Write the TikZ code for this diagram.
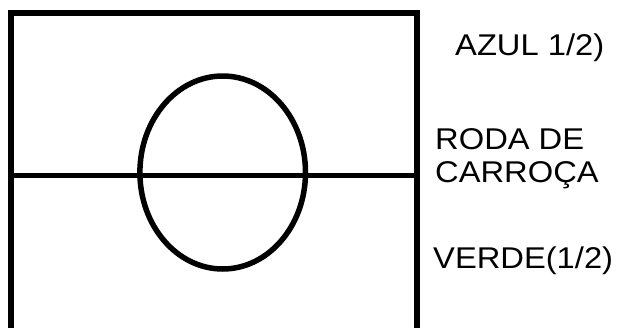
\documentclass[tikz,border=0pt]{standalone}
\usepackage{fontspec}
\newfontfamily\labelfont[FakeStretch=1.09]{Liberation Sans}
\usetikzlibrary{positioning}

\begin{document}
\begin{tikzpicture}[x=1pt,y=-1pt,
  every node/.style={font=\labelfont\fontsize{30}{33}\selectfont},
  frame/.style={line width=6pt,line join=miter},
  wheel/.style={line width=5.5pt},
  note/.style={anchor=base west,inner sep=0pt}]
  \useasboundingbox (0,0) rectangle (619,327);
  % frame, open at the bottom
  \coordinate (bl) at (10.5,332);
  \coordinate (tl) at (10.5,13);
  \coordinate (tr) at (417,13);
  \coordinate (br) at (417,332);
  \draw[frame] (bl) -- (tl) -- (tr) -- (br);
  \coordinate (midl) at (10.5,175.5);
  \coordinate (midr) at (417,175.5);
  \draw[line width=5pt] (midl) -- (midr);
  \draw[wheel] (222.7,172.5) ellipse [x radius=82.8, y radius=96.5];
  % labels
  \node[note] (azul) at (455,55) {AZUL 1/2)};
  \node[note] (roda) at (435,149) {RODA DE};
  \node[note] (carroca) at ([yshift=-33pt]roda.base west) {CARROÇA};
  \node[note] (verde) at (433,268) {VERDE(1/2)};
\end{tikzpicture}
\end{document}
